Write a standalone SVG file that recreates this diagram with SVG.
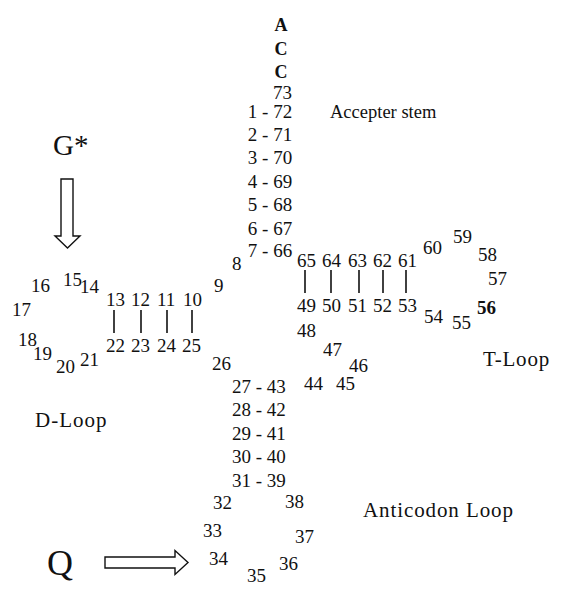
<svg xmlns="http://www.w3.org/2000/svg" width="562" height="604" viewBox="0 0 562 604">
  <style>
    text { font-family: "Liberation Serif", "Times New Roman", serif; fill: #111; }
    .n { font-size: 19px; }
    .b { font-size: 18px; font-weight: bold; }
    .lbl { font-size: 21px; }
    .pair { stroke: #111; stroke-width: 1.6; }
    .arrow { fill: #fff; stroke: #111; stroke-width: 1.4; stroke-linejoin: miter; }
  </style>
  <rect width="562" height="604" fill="#fff"/>

  <!-- 3' end and acceptor stem -->
  <g id="acceptor-stem">
    <text class="b" x="281" y="31" text-anchor="middle">A</text>
    <text class="b" x="281" y="55" text-anchor="middle">C</text>
    <text class="b" x="281" y="78" text-anchor="middle">C</text>
    <text class="n" x="282.5" y="99" text-anchor="middle">73</text>
    <text class="n" x="270" y="117.5" text-anchor="middle">1 - 72</text>
    <text class="n" x="270" y="140.5" text-anchor="middle">2 - 71</text>
    <text class="n" x="270" y="164" text-anchor="middle">3 - 70</text>
    <text class="n" x="270" y="187.5" text-anchor="middle">4 - 69</text>
    <text class="n" x="270" y="211" text-anchor="middle">5 - 68</text>
    <text class="n" x="270" y="234.5" text-anchor="middle">6 - 67</text>
    <text class="n" x="270" y="257" text-anchor="middle">7 - 66</text>
    <text x="330" y="118" font-size="18.5">Accepter stem</text>
  </g>

  <!-- D arm -->
  <g id="d-loop">
    <text class="n" x="232" y="270">8</text>
    <text class="n" x="214" y="292">9</text>
    <text class="n" x="183" y="306">10</text>
    <text class="n" x="157" y="306">11</text>
    <text class="n" x="131" y="306">12</text>
    <text class="n" x="106" y="306">13</text>
    <text class="n" x="80" y="293">14</text>
    <text class="n" x="63" y="286">15</text>
    <text class="n" x="31" y="292">16</text>
    <text class="n" x="12" y="316">17</text>
    <text class="n" x="18" y="346">18</text>
    <text class="n" x="33" y="360">19</text>
    <text class="n" x="56" y="373">20</text>
    <text class="n" x="80" y="366">21</text>
    <text class="n" x="106" y="352">22</text>
    <text class="n" x="131" y="352">23</text>
    <text class="n" x="157" y="352">24</text>
    <text class="n" x="182" y="352">25</text>
    <text class="n" x="212" y="370">26</text>
    <text class="lbl" x="35" y="427" letter-spacing="1">D-Loop</text>
  </g>

  <!-- T arm -->
  <g id="t-loop">
    <text class="n" x="297" y="267">65</text>
    <text class="n" x="322" y="267">64</text>
    <text class="n" x="348" y="267">63</text>
    <text class="n" x="373" y="267">62</text>
    <text class="n" x="398" y="267">61</text>
    <text class="n" x="423" y="254">60</text>
    <text class="n" x="453" y="243">59</text>
    <text class="n" x="478" y="261">58</text>
    <text class="n" x="488" y="285">57</text>
    <text class="n" x="477" y="314" font-weight="bold">56</text>
    <text class="n" x="452" y="329">55</text>
    <text class="n" x="424" y="323">54</text>
    <text class="n" x="398" y="312">53</text>
    <text class="n" x="373" y="312">52</text>
    <text class="n" x="348" y="312">51</text>
    <text class="n" x="322" y="312">50</text>
    <text class="n" x="297" y="312">49</text>
    <text class="n" x="297" y="337">48</text>
    <text class="n" x="323" y="356">47</text>
    <text class="n" x="349" y="372">46</text>
    <text class="n" x="336" y="390">45</text>
    <text class="n" x="304" y="390">44</text>
    <text class="lbl" x="483" y="366" letter-spacing="0.8">T-Loop</text>
  </g>

  <!-- anticodon arm -->
  <g id="anticodon-loop">
    <text class="n" x="232" y="393">27 - 43</text>
    <text class="n" x="232" y="416">28 - 42</text>
    <text class="n" x="232" y="440">29 - 41</text>
    <text class="n" x="232" y="463">30 - 40</text>
    <text class="n" x="232" y="487">31 - 39</text>
    <text class="n" x="213" y="509">32</text>
    <text class="n" x="203" y="537">33</text>
    <text class="n" x="209" y="565">34</text>
    <text class="n" x="247" y="582">35</text>
    <text class="n" x="279" y="570">36</text>
    <text class="n" x="295" y="543">37</text>
    <text class="n" x="285" y="508">38</text>
    <text class="lbl" x="363" y="517" letter-spacing="0.9">Anticodon Loop</text>
  </g>

  <!-- modification markers -->
  <g id="g-star">
    <text x="53" y="155" font-size="29">G*</text>
  </g>
  <g id="queuosine">
    <text x="47" y="575" font-size="36">Q</text>
  </g>

  <!-- base-pair bars and pointer arrows -->
  <g id="connectors">
    <line class="pair" x1="114" y1="310" x2="114" y2="333"/>
    <line class="pair" x1="141" y1="310" x2="141" y2="333"/>
    <line class="pair" x1="167" y1="310" x2="167" y2="333"/>
    <line class="pair" x1="192" y1="310" x2="192" y2="333"/>
    <line class="pair" x1="305" y1="270" x2="305" y2="293"/>
    <line class="pair" x1="331" y1="270" x2="331" y2="293"/>
    <line class="pair" x1="359" y1="270" x2="359" y2="293"/>
    <line class="pair" x1="383" y1="270" x2="383" y2="293"/>
    <line class="pair" x1="406" y1="270" x2="406" y2="293"/>
    <path class="arrow" d="M61,179 H73 V236 H80 L67.5,248 L55,236 H61 Z"/>
    <path class="arrow" d="M105,557 H175 V550.5 L188,562.5 L175,574.5 V568 H105 Z"/>
  </g>
</svg>
